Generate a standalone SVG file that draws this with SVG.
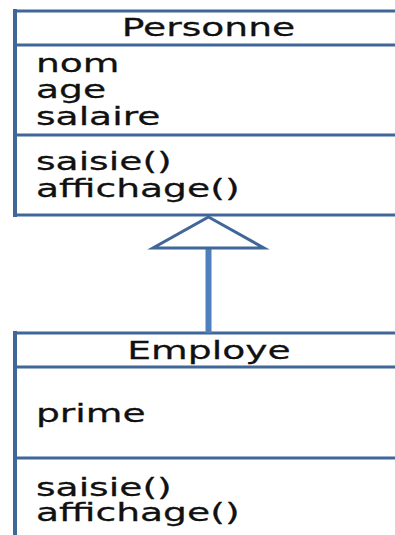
<svg xmlns="http://www.w3.org/2000/svg" width="395" height="535" viewBox="0 0 395 535">
  <style>
    .box { fill: #ffffff; stroke: #41669a; stroke-width: 3; }
    .sep { stroke: #41669a; stroke-width: 3; fill: none; }
    .edge { stroke: #41669a; stroke-width: 4; fill: none; }
    .t { font-family: "DejaVu Sans", Verdana, sans-serif; font-size: 24px; fill: #111111; stroke: #111111; stroke-width: 0.25; }
    .c { text-anchor: middle; }
    .link { stroke: #4f7fbd; stroke-width: 6; fill: none; }
    .head { fill: #ffffff; stroke: #41669a; stroke-width: 3; stroke-linejoin: miter; }
  </style>

  <!-- Personne class -->
  <g id="personne">
    <rect class="box" x="15" y="11" width="410" height="204"/>
    <line class="edge" x1="15" y1="9" x2="15" y2="217"/>
    <line class="sep" x1="15" y1="45" x2="400" y2="45"/>
    <line class="sep" x1="15" y1="135" x2="400" y2="135"/>
    <g transform="scale(1.57 1)">
      <text class="t c" x="132.8" y="36">Personne</text>
      <text class="t" x="22.9" y="72">nom</text>
      <text class="t" x="22.9" y="98">age</text>
      <text class="t" x="22.9" y="125">salaire</text>
      <text class="t" x="22.9" y="170">saisie()</text>
      <text class="t" x="22.9" y="197">affichage()</text>
    </g>
  </g>

  <!-- Employe class -->
  <g id="employe">
    <rect class="box" x="15" y="333" width="410" height="230"/>
    <line class="edge" x1="15" y1="331" x2="15" y2="540"/>
    <line class="sep" x1="15" y1="367" x2="400" y2="367"/>
    <line class="sep" x1="15" y1="458" x2="400" y2="458"/>
    <g transform="scale(1.57 1)">
      <text class="t c" x="133.1" y="359">Employe</text>
      <text class="t" x="22.9" y="422">prime</text>
      <text class="t" x="22.9" y="496">saisie()</text>
      <text class="t" x="22.9" y="521">affichage()</text>
    </g>
  </g>

  <!-- generalization: Employe inherits from Personne -->
  <g id="connectors">
    <line class="link" x1="208.5" y1="249" x2="208.5" y2="333"/>
    <polygon class="head" points="208.5,217 264,248 153,248"/>
  </g>
</svg>
